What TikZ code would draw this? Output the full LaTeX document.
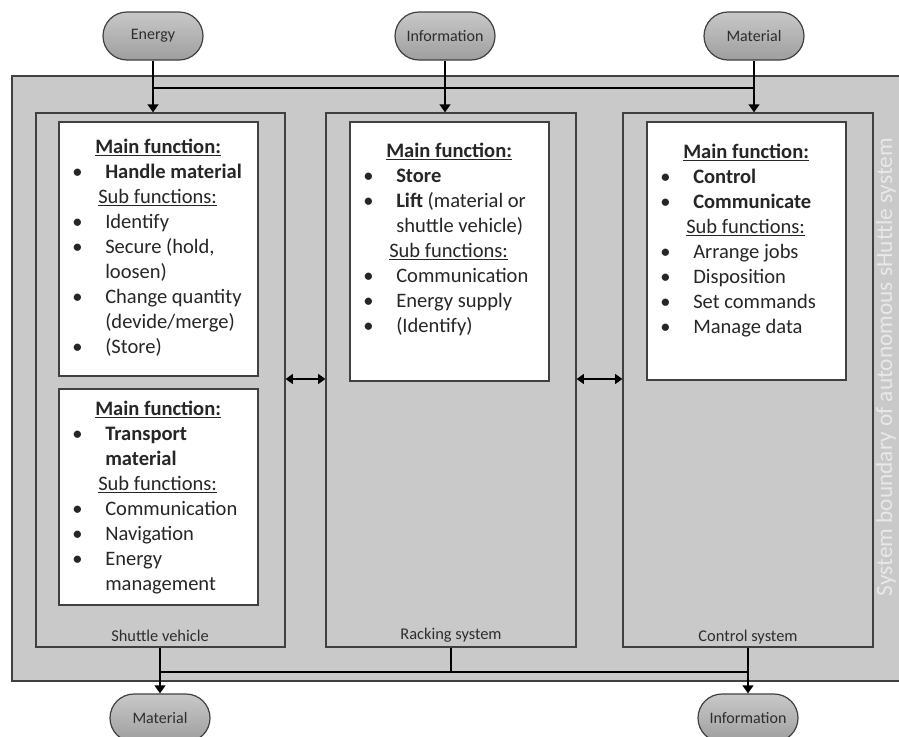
\documentclass[tikz,border=0pt]{standalone}
\usepackage{fontspec}
\setmainfont{Carlito}
\usepackage{tikz}
\usetikzlibrary{arrows.meta,shapes.misc,positioning}
\usepackage{xcolor}

\definecolor{sysgrey}{RGB}{201,201,201}
\definecolor{edgegrey}{RGB}{64,64,64}
\definecolor{termtop}{RGB}{200,200,200}
\definecolor{termbot}{RGB}{158,158,158}
\definecolor{txtgrey}{RGB}{45,45,45}
\definecolor{bndtext}{RGB}{232,232,232}

\newcommand{\fnlines}[1]{\parbox[t]{149pt}{\fontsize{15.4pt}{18.75pt}\selectfont\raggedright #1}}
\newcommand{\mainfn}{\hspace*{27pt}\textbf{\underline{Main function:}}}
\newcommand{\subfn}{\hspace*{29.25pt}\underline{Sub functions:}}
\newcommand{\itm}{\hspace*{9.75pt}\makebox[24.75pt][l]{\textbullet}}
\newcommand{\cnt}{\hspace*{34.5pt}}

\begin{document}
\begin{tikzpicture}[x=0.75pt,y=0.75pt,yscale=-1,xscale=1,
	colbox/.style={draw=edgegrey,fill=sysgrey,line width=0.9pt,minimum width=#1,minimum height=400.5pt,inner sep=0pt},
	fnbox/.style={draw=edgegrey,fill=white,line width=0.9pt,minimum width=149.25pt,inner sep=0pt},
	fntext/.style={anchor=base west,inner sep=0pt,text=black!85},
	termnode/.style={rounded rectangle,draw=edgegrey,top color=termtop,bottom color=termbot,line width=0.9pt,minimum width=75pt,minimum height=36pt,inner sep=0pt,text=txtgrey,font=\fontsize{12pt}{14pt}\selectfont},
	collabel/.style={anchor=base,inner sep=0pt,text=txtgrey,font=\fontsize{12.3pt}{14pt}\selectfont},
	flowarrow/.style={line width=1.5pt,-{Triangle[width=8pt,length=6pt]}},
	busline/.style={line width=1.5pt},
	linkarrow/.style={line width=1.2pt,{Triangle[width=7.5pt,length=5.5pt]}-{Triangle[width=7.5pt,length=5.5pt]}}]
			\useasboundingbox (0,0) rectangle (899,736);
			
			%Shape: Rectangle (system boundary)
			\draw [draw=edgegrey,fill=sysgrey,line width=1.5pt] (12,76) rectangle (905,681);
			
			%Shape: Rectangle (subsystems)
			\node [colbox=186.75pt] (shuttle) at (160.5,380) {};
			\node [colbox=187.5pt] (racking) at (451,380) {};
			\node [colbox=187.5pt] (control) at (748,380) {};
			
			%Shape: Rectangle (function boxes)
			\node [fnbox,minimum height=190.5pt] (handle) at (158.5,249) {};
			\node [fnbox,minimum height=162pt] (transport) at (158.5,497) {};
			\node [fnbox,minimum height=194.25pt] (store) at (449.5,251.5) {};
			\node [fnbox,minimum height=193.5pt] (ctrl) at (746.5,251) {};
			
			%Rounded Rect (inputs and outputs)
			\node [termnode] (energy) at (153,36) {Energy};
			\node [termnode] (infoin) at (445,36) {Information};
			\node [termnode] (matin) at (754,36) {Material};
			\node [termnode] (matout) at (160,718) {Material};
			\node [termnode] (infoout) at (748,718) {Information};
			
			\coordinate (topbus) at (0,88);
			\coordinate (botbus) at (0,672);
			\coordinate (linkrow) at (0,379);
			
			%Straight Lines
			\draw [busline] (energy.south |- topbus) -- (matin.south |- topbus);
			\draw [flowarrow] (energy.south) -- (energy.south |- shuttle.north);
			\draw [flowarrow] (infoin.south) -- (infoin.south |- racking.north);
			\draw [flowarrow] (matin.south) -- (matin.south |- control.north);
			
			%Straight Lines
			\draw [flowarrow] (matout.north |- shuttle.south) -- (matout.north);
			\draw [flowarrow] (infoout.north |- control.south) -- (infoout.north);
			\draw [busline] (racking.south) -- (racking.south |- botbus);
			\draw [busline] (matout.north |- botbus) -- (infoout.north |- botbus);
			
			%Straight Lines
			\draw [linkarrow] (shuttle.east |- linkrow) -- (racking.west |- linkrow);
			\draw [linkarrow] (racking.east |- linkrow) -- (control.west |- linkrow);
			
			% Text Node
			\node [fntext] (handletxt) at (59,153) {\fnlines{\mainfn\\
				\itm\textbf{Handle material}\\
				\subfn\\
				\itm Identify\\
				\itm Secure (hold,\\
				\cnt loosen)\\
				\itm Change quantity\\
				\cnt (devide/merge)\\
				\itm (Store)}};
			% Text Node
			\node [fntext] (transporttxt) at (59,415) {\fnlines{\mainfn\\
				\itm\textbf{Transport}\\
				\cnt\textbf{material}\\
				\subfn\\
				\itm Communication\\
				\itm Navigation\\
				\itm Energy\\
				\cnt management}};
			% Text Node
			\node [fntext] (storetxt) at (350,157) {\fnlines{\mainfn\\
				\itm\textbf{Store}\\
				\itm\textbf{Lift} (material or\\
				\cnt shuttle vehicle)\\
				\subfn\\
				\itm Communication\\
				\itm Energy supply\\
				\itm (Identify)}};
			% Text Node
			\node [fntext] (ctrltxt) at (647,158) {\fnlines{\mainfn\\
				\itm\textbf{Control}\\
				\itm\textbf{Communicate}\\
				\subfn\\
				\itm Arrange jobs\\
				\itm Disposition\\
				\itm Set commands\\
				\itm Manage data}};
			
			% Text Node
			\node [collabel] (shuttlelbl) at (160,641) {Shuttle vehicle};
			% Text Node
			\node [collabel] (rackinglbl) at (451,639) {Racking system};
			% Text Node
			\node [collabel] (controllbl) at (748,641) {Control system};
			% Text Node
			\node [rotate=90,inner sep=0pt,text=bndtext,font=\fontsize{17.5pt}{20pt}\selectfont] (boundary) at (886,367) {System boundary of autonomous sHuttle system};
			
\end{tikzpicture}
\end{document}
